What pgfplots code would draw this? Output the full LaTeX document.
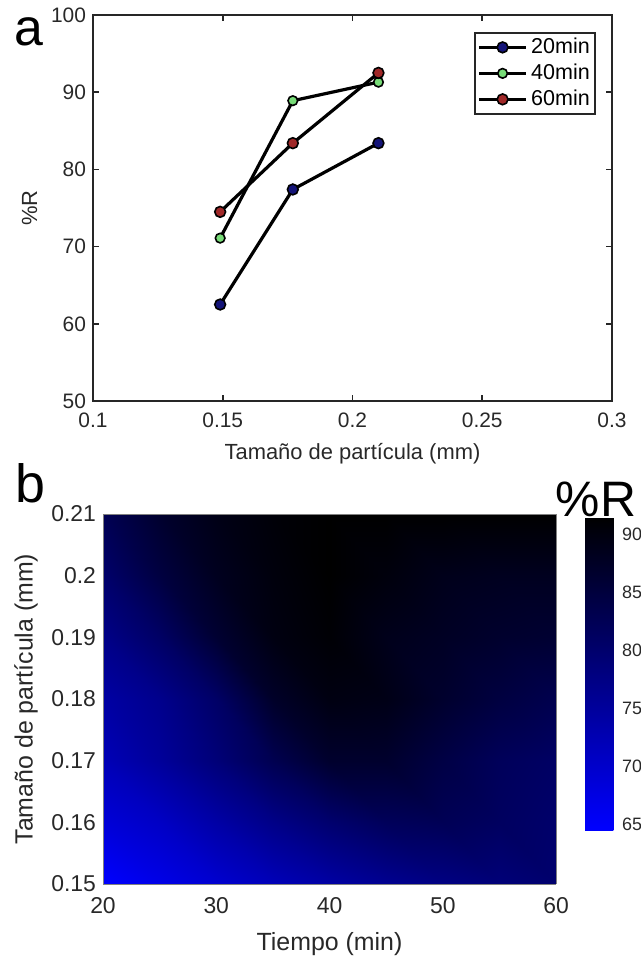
\documentclass[border=0pt]{standalone}
\usepackage{pgfplots}
\pgfplotsset{compat=1.18}
\usepackage{fontspec}
\setmainfont{Liberation Sans}

\definecolor{cnavy}{RGB}{20,20,120}
\definecolor{cgreen}{RGB}{120,220,120}
\definecolor{cred}{RGB}{160,40,40}
\definecolor{txt}{RGB}{40,40,40}

\pgfplotstableread{
t y z
20 0.15 64.3
25 0.15 66.8
30 0.15 69.3
35 0.15 71.8
40 0.15 74
45 0.15 76
50 0.15 77.5
55 0.15 78.6
60 0.15 79.7

20 0.16 68.5
25 0.16 70.5
30 0.16 73.8
35 0.16 77
40 0.16 79.7
45 0.16 81.8
50 0.16 82.3
55 0.16 81.2
60 0.16 80

20 0.17 72
25 0.17 75
30 0.17 78.6
35 0.17 82.8
40 0.17 86.5
45 0.17 86.5
50 0.17 84
55 0.17 81.8
60 0.17 80.7

20 0.18 74
25 0.18 76.5
30 0.18 80.5
35 0.18 87
40 0.18 89.5
45 0.18 89
50 0.18 86.5
55 0.18 84.5
60 0.18 83

20 0.19 77
25 0.19 80.7
30 0.19 86
35 0.19 89.5
40 0.19 90.8
45 0.19 88.5
50 0.19 87.5
55 0.19 86.5
60 0.19 86

20 0.20 80
25 0.20 84.5
30 0.20 88
35 0.20 90
40 0.20 91.3
45 0.20 90
50 0.20 88.5
55 0.20 88
60 0.20 88

20 0.21 82.5
25 0.21 86.5
30 0.21 89
35 0.21 90.5
40 0.21 91.3
45 0.21 91.3
50 0.21 91.3
55 0.21 91.3
60 0.21 91.3
}\surfdata

\begin{document}
\begin{tikzpicture}[x=1bp,y=1bp]
\begin{axis}[
  at={(46.5bp,-7.5bp)}, anchor=north west,
  width=259.5bp, height=193bp, scale only axis,
  xmin=0.1, xmax=0.3, ymin=50, ymax=100,
  xtick={0.1,0.15,0.2,0.25,0.3},
  xticklabels={0.1,0.15,0.2,0.25,0.3},
  ytick={50,60,70,80,90,100},
  tick align=inside, major tick length=3bp,
  axis line style={line width=1bp, black!85},
  tick style={line width=0.8bp, black!85},
  /pgf/number format/assume math mode=true,
  ticklabel style={font=\fontsize{10.5}{12}\selectfont, text=txt},
  xticklabel style={yshift=-2.5bp},
  xlabel={Tamaño de partícula (mm)},
  ylabel={\%R},
  label style={font=\fontsize{11}{13}\selectfont, text=txt},
  xlabel style={yshift=-1bp},
  legend style={at={(0.969,0.956)}, anchor=north east, draw=black!85, line width=0.9bp,
    font=\fontsize{10.8}{12}\selectfont, inner sep=1bp, row sep=0.5bp,
    nodes={inner sep=1.6bp}},
  legend cell align=left,
  legend image code/.code={\draw[mark repeat=2,mark phase=2,#1] plot coordinates {(0cm,0cm) (0.42cm,0cm) (0.84cm,0cm)};},
]
\addplot[black, line width=1.6bp, mark=*, mark size=2.7bp, mark options={fill=cnavy, draw=black, line width=0.8bp}]
  coordinates {(0.149,62.5) (0.177,77.4) (0.210,83.4)};
\addlegendentry{20min}
\addplot[black, line width=1.6bp, mark=*, mark size=2.4bp, mark options={fill=cgreen, draw=black, line width=0.8bp}]
  coordinates {(0.149,71.1) (0.177,88.9) (0.210,91.3)};
\addlegendentry{40min}
\addplot[black, line width=1.6bp, mark=*, mark size=2.7bp, mark options={fill=cred, draw=black, line width=0.8bp}]
  coordinates {(0.149,74.5) (0.177,83.4) (0.210,92.5)};
\addlegendentry{60min}
\end{axis}

\begin{axis}[
  at={(51.5bp,-257bp)}, anchor=north west,
  width=226.5bp, height=185bp, scale only axis,
  view={0}{90},
  xmin=20, xmax=60, ymin=0.15, ymax=0.21,
  xtick={20,30,40,50,60},
  ytick={0.15,0.16,0.17,0.18,0.19,0.2,0.21},
  yticklabels={0.15,0.16,0.17,0.18,0.19,0.2,0.21},
  major tick length=0bp,
  axis on top,
  axis line style={line width=0.5bp, black!50},
  /pgf/number format/assume math mode=true,
  ticklabel style={font=\fontsize{11.5}{13}\selectfont, text=txt},
  xticklabel style={yshift=-3bp},
  xlabel={Tiempo (min)},
  ylabel={Tamaño de partícula (mm)},
  label style={font=\fontsize{12.5}{14}\selectfont, text=txt},
  xlabel style={yshift=-3bp},
  colormap={bk}{rgb255=(0,0,255) rgb255=(0,0,0)},
  point meta min=64.3, point meta max=91.3,
  colorbar,
  colorbar style={
    at={(parent axis.north east)}, anchor=north west,
    xshift=6bp, yshift=-1.5bp,
    width=15bp, height=156.5bp,
    ytick={65,70,75,80,85,90},
    major tick length=0bp,
    axis line style={draw=none},
    /pgf/number format/assume math mode=true,
    yticklabel style={font=\fontsize{9}{11}\selectfont, text=txt, yshift=-1bp},
  },
]
\addplot3[surf, shader=interp, mesh/cols=9] table[x=t, y=y, z=z] {\surfdata};
\end{axis}

\node[anchor=base west, font=\fontsize{26}{30}\selectfont, inner sep=0] at (7bp,-22.5bp) {a};
\node[anchor=base west, font=\fontsize{27}{30}\selectfont, inner sep=0] at (7.5bp,-251bp) {b};
\node[anchor=base, font=\fontsize{25}{30}\selectfont, inner sep=0] at (298bp,-258bp) {\%R};

\pgfresetboundingbox
\path[use as bounding box] (0bp,0bp) rectangle (320.5bp,-478bp);
\end{tikzpicture}
\end{document}
